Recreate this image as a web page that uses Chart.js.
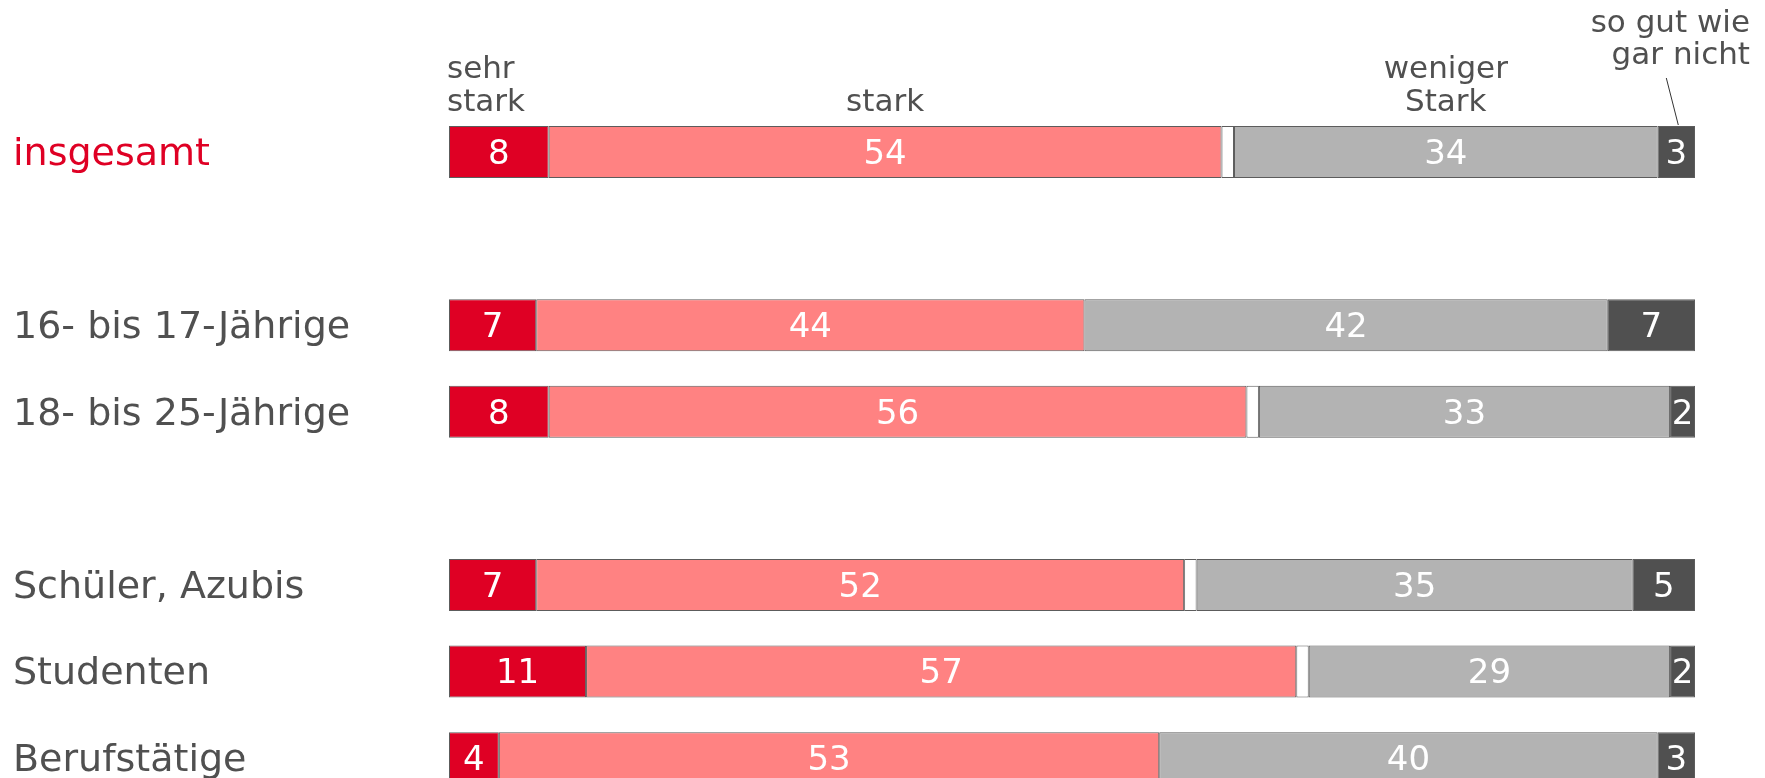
<!DOCTYPE html>
<html>
<head>
<meta charset="utf-8">
<script src="https://cdn.jsdelivr.net/npm/chart.js@4.4.0/dist/chart.umd.min.js"></script>
<style>
    html, body { margin: 0; padding: 0; background: #fff; overflow: hidden; }
    #wrap { width: 1765px; height: 778px; overflow: hidden; }
</style>
</head>
<body>
<div id="wrap"><canvas id="chart" width="1765" height="810"></canvas></div>
<script>
// Rows (empty strings are spacer rows)
const categories = ['insgesamt', '', '16- bis 17-Jährige', '18- bis 25-Jährige', '', 'Schüler, Azubis', 'Studenten', 'Berufstätige'];

// Values in percent
const sehrStark    = [8, null, 7, 8, null, 7, 11, 4];
const stark        = [54, null, 44, 56, null, 52, 57, 53];
const rest         = [1, null, 0, 1, null, 1, 1, 0];
const wenigerStark = [34, null, 42, 33, null, 35, 29, 40];
const garNicht     = [3, null, 7, 2, null, 5, 2, 3];

// Column headings above the first bar
const headSehrStark = ['sehr', 'stark'];
const headStark = ['stark'];
const headWeniger = ['weniger', 'Stark'];
const headGarNicht = ['so gut wie', 'gar nicht'];

const RED = '#DF0024';
const PINK = '#FF8282';
const GREY = '#B3B3B3';
const DARK = '#505050';
const TEXT = '#505050';
const FONT = '"DejaVu Sans", sans-serif';

// Draw the numbers inside the bars
const valueLabels = {
    id: 'valueLabels',
    afterDatasetsDraw(chart) {
        const ctx = chart.ctx;
        ctx.save();
        ctx.font = '34px ' + FONT;
        ctx.fillStyle = '#fff';
        ctx.textAlign = 'center';
        ctx.textBaseline = 'middle';
        chart.data.datasets.forEach((ds, i) => {
            if (ds.noLabel) return;
            chart.getDatasetMeta(i).data.forEach((bar, j) => {
                const v = ds.data[j];
                if (v == null || v === 0) return;
                ctx.fillText(String(v), (bar.x + bar.base) / 2, bar.y + 3);
            });
        });
        ctx.restore();
    }
};

// Headings over the first bar + leader line
const headings = {
    id: 'headings',
    afterDraw(chart) {
        const ctx = chart.ctx;
        const bar = (d) => chart.getDatasetMeta(d).data[0];
        ctx.save();
        ctx.font = '31px ' + FONT;
        ctx.fillStyle = TEXT;
        ctx.textBaseline = 'alphabetic';

        ctx.textAlign = 'left';
        const b0 = bar(0);
        ctx.fillText(headSehrStark[0], b0.base - 2, 78);
        ctx.fillText(headSehrStark[1], b0.base - 2, 111);

        ctx.textAlign = 'center';
        const b1 = bar(1);
        ctx.fillText(headStark[0], (b1.x + b1.base) / 2, 111);

        const b3 = bar(3);
        ctx.fillText(headWeniger[0], (b3.x + b3.base) / 2, 78);
        ctx.fillText(headWeniger[1], (b3.x + b3.base) / 2, 111);

        ctx.textAlign = 'right';
        const right = chart.chartArea.right + 55;
        ctx.fillText(headGarNicht[0], right, 32);
        ctx.fillText(headGarNicht[1], right, 64);

        const b4 = bar(4);
        const cx = (b4.x + b4.base) / 2;
        ctx.strokeStyle = '#333';
        ctx.lineWidth = 1;
        ctx.beginPath();
        ctx.moveTo(cx - 10, 78);
        ctx.lineTo(cx + 2, b4.y - 27);
        ctx.stroke();
        ctx.restore();
    }
};

function series(label, data, color, extra) {
    return Object.assign({
        label: label,
        data: data,
        backgroundColor: color,
        borderColor: '#5c5c5c',
        borderWidth: 1,
        borderSkipped: false
    }, extra || {});
}

new Chart(document.getElementById('chart'), {
    type: 'bar',
    data: {
        labels: categories,
        datasets: [
            series('sehr stark', sehrStark, RED),
            series('stark', stark, PINK),
            series('', rest, '#ffffff', { noLabel: true }),
            series('weniger Stark', wenigerStark, GREY),
            series('so gut wie gar nicht', garNicht, DARK)
        ]
    },
    options: {
        indexAxis: 'y',
        responsive: false,
        animation: false,
        devicePixelRatio: 1,
        layout: {
            padding: { left: 13, right: 70, top: 108.7, bottom: 8.5 }
        },
        datasets: {
            bar: { categoryPercentage: 1, barPercentage: 0.6 }
        },
        scales: {
            x: {
                stacked: true,
                min: 0,
                max: 100,
                display: false
            },
            y: {
                stacked: true,
                grid: { display: false },
                border: { display: false },
                afterFit(scale) {
                    scale.width = 436;
                    scale.paddingTop = 0;
                    scale.paddingBottom = 0;
                },
                ticks: {
                    crossAlign: 'far',
                    padding: 0,
                    labelOffset: 3,
                    font: { family: FONT, size: 38 },
                    color: (c) => c.index === 0 ? RED : TEXT
                }
            }
        },
        plugins: {
            legend: { display: false },
            tooltip: { enabled: false }
        }
    },
    plugins: [valueLabels, headings]
});
</script>
</body>
</html>
